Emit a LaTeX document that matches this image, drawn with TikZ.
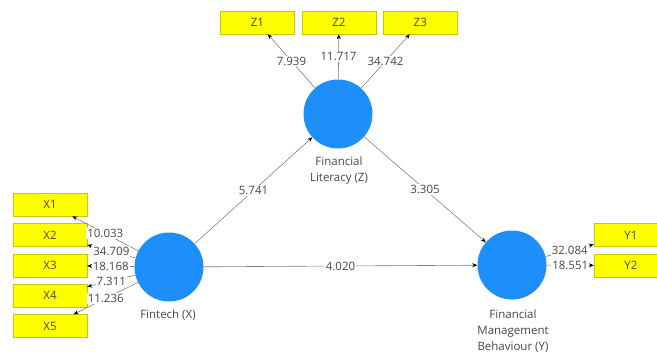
\documentclass[tikz,border=0pt]{standalone}
\usepackage{fontspec}
\setmainfont{Open Sans}
\usepackage{tikz}
\usetikzlibrary{arrows, arrows.meta, positioning}
\definecolor{lvblue}{HTML}{1E8FFA}
\definecolor{indyellow}{HTML}{FFFF00}
\definecolor{indborder}{HTML}{C8C800}
\definecolor{pathgray}{HTML}{808080}
\definecolor{txtgray}{HTML}{454545}

\begin{document}
\begin{tikzpicture}[
    x=1pt, y=-1pt,
    node distance=7pt,
    latent/.style={circle, fill=lvblue, minimum size=69pt, inner sep=0pt},
    indicator/.style={rectangle, draw=indborder, fill=indyellow, minimum width=74pt, minimum height=23pt, inner sep=0pt, text=txtgray, font=\fontsize{11.5}{14}\selectfont},
    caption/.style={align=center, text=txtgray, font=\fontsize{11.5}{16}\selectfont},
    coef/.style={fill=white, inner sep=1pt, text=txtgray, font=\fontsize{11.5}{14}\selectfont},
    arrow/.style={draw=pathgray, line width=0.6pt, ->, >={Stealth[black, length=5pt, width=4pt]}}
]
\useasboundingbox (0,0) rectangle (657,356);
\clip (0,0) rectangle (657,356);

% Nodes
\node[latent] (fintech) at (169,267) {};
\node[latent] (literacy) at (338,114) {};
\node[latent] (behaviour) at (512,265) {};

\node[caption] at (168,315) (fintechcap) {Fintech (X)};
\node[caption] at (339,171) (literacycap) {Financial\\Literacy (Z)};
\node[caption] at (513,331) (behaviourcap) {Financial\\Management\\Behaviour (Y)};

\node[indicator] (x1) at (50,204.5) {X1};
\node[indicator, below=of x1] (x2) {X2};
\node[indicator, below=of x2] (x3) {X3};
\node[indicator, below=of x3] (x4) {X4};
\node[indicator, below=of x4] (x5) {X5};

\node[indicator] (z1) at (257.5,22.5) {Z1};
\node[indicator, right=of z1] (z2) {Z2};
\node[indicator, right=of z2] (z3) {Z3};

\node[indicator] (y1) at (631,235) {Y1};
\node[indicator, below=of y1] (y2) {Y2};

% Edges
\draw[arrow] (fintech) -- node[coef] {5.741} (literacy);
\draw[arrow] (literacy) -- node[coef] {3.305} (behaviour);
\draw[arrow] (fintech) -- node[coef] {4.020} (behaviour);

\draw[arrow] (fintech) -- node[coef] {10.033} (x1);
\draw[arrow] (fintech) -- node[coef] {34.709} (x2);
\draw[arrow] (fintech) -- node[coef] {18.168} (x3);
\draw[arrow] (fintech) -- node[coef] {7.311} (x4);
\draw[arrow] (fintech) -- node[coef] {11.236} (x5);

\draw[arrow] (literacy) -- node[coef] {7.939} (z1);
\draw[arrow] (literacy) -- node[coef] {11.717} (z2);
\draw[arrow] (literacy) -- node[coef] {34.742} (z3);

\draw[arrow] (behaviour) -- node[coef] {32.084} (y1);
\draw[arrow] (behaviour) -- node[coef] {18.551} (y2);

\end{tikzpicture}
\end{document}
